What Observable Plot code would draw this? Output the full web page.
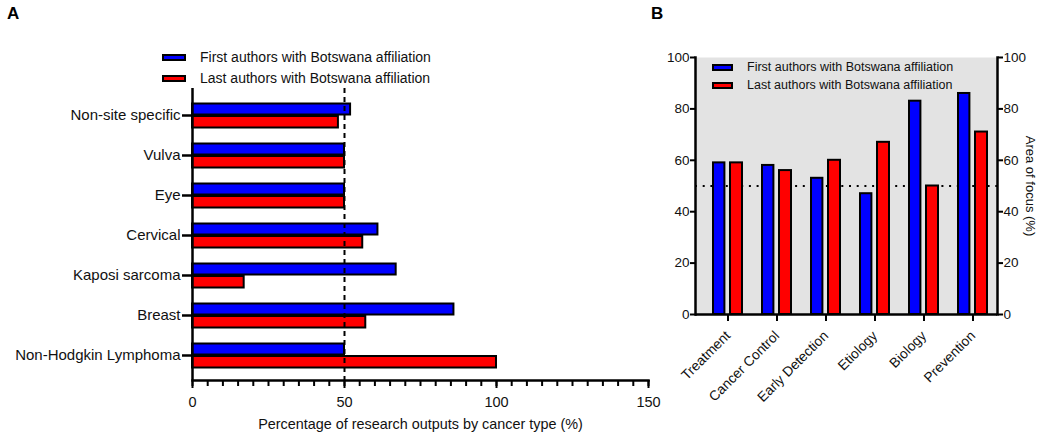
<!DOCTYPE html>
<html><head><meta charset="utf-8">
<script src="https://cdn.jsdelivr.net/npm/d3@7"></script>
<script src="https://cdn.jsdelivr.net/npm/@observablehq/plot@0.6"></script>
<style>
body{margin:0;background:#fff;font-family:"Liberation Sans",Arial,sans-serif;}
#wrap{position:relative;width:1050px;height:436px;overflow:hidden;background:#fff;}
.pa{position:absolute;top:0;}
.sw{position:absolute;box-sizing:border-box;border:2px solid #000;}
.lt{position:absolute;white-space:nowrap;line-height:1;color:#111;transform:translateY(-50%);}
.lab{position:absolute;font-weight:bold;font-size:17px;line-height:1;transform:translateY(-50%);}
</style></head><body><div id="wrap"></div>
<script>
// ---- data ----
const cancerTypes = ["Non-site specific","Vulva","Eye","Cervical","Kaposi sarcoma","Breast","Non-Hodgkin Lymphoma"];
const cancerFirst = [52, 50, 50, 61, 67, 86, 50];
const cancerLast  = [48, 50, 50, 56, 17, 57, 100];
const focusAreas = ["Treatment","Cancer Control","Early Detection","Etiology","Biology","Prevention"];
const focusFirst = [59, 58, 53, 47, 83, 86];
const focusLast  = [59, 56, 60, 67, 50, 71];
const aMajorTicks = [0, 50, 100, 150];
const bTicks = [0, 20, 40, 60, 80, 100];
const seriesNames = ["First authors with Botswana affiliation","Last authors with Botswana affiliation"];
const seriesColors = ["#0000ff","#ff0000"];
const aXLabel = "Percentage of research outputs by cancer type (%)";
const bYLabel = "Area of focus (%)";

const font = '"Liberation Sans", Arial, sans-serif';
const wrap = document.getElementById("wrap");

// ---- panel A ----
const aData = cancerTypes.map((c, i) => ({c, first: cancerFirst[i], last: cancerLast[i]}));
const plotA = Plot.plot({
  width: 660, height: 436,
  marginLeft: 192, marginRight: 12, marginTop: 88, marginBottom: 56,
  style: {fontFamily: font, fontSize: "14px", color: "#000", background: "transparent", overflow: "visible"},
  x: {domain: [0, 150]},
  y: {type: "band", domain: cancerTypes, range: [92.75, 376.25], padding: 0},
  marks: [
    Plot.barX(aData, {y: "c", x: "first", fill: seriesColors[0], stroke: "#000", strokeWidth: 2, insetTop: 8.5, insetBottom: 20.5}),
    Plot.barX(aData, {y: "c", x: "last", fill: seriesColors[1], stroke: "#000", strokeWidth: 2, insetTop: 21, insetBottom: 7.5}),
    Plot.ruleX([50], {strokeDasharray: "5,4", strokeWidth: 2}),
    Plot.ruleX([0], {strokeWidth: 2.5}),
    Plot.frame({anchor: "bottom", strokeWidth: 2.5}),
    Plot.axisY({tickSize: 10, tickPadding: 2, strokeWidth: 2.5, fontSize: 15, label: null, fill: "#111"}),
    Plot.axisX({ticks: d3.range(0, 151, 5), tickSize: 6, tickFormat: () => "", strokeWidth: 2, label: null}),
    Plot.axisX({ticks: aMajorTicks, tickSize: 8, tickPadding: 8, strokeWidth: 2, fontSize: 14.5, label: null, fill: "#111"}),
    Plot.text([aXLabel], {text: d => d, frameAnchor: "bottom", dy: 48, fontSize: 14.4, fill: "#111"})
  ]
});
plotA.classList.add("pa");
plotA.style.left = "0px";
wrap.appendChild(plotA);

// ---- panel B ----
const bData = focusAreas.map((a, i) => ({a, first: focusFirst[i], last: focusLast[i]}));
const plotB = Plot.plot({
  width: 400, height: 436,
  marginLeft: 45, marginRight: 53, marginTop: 57, marginBottom: 122,
  style: {fontFamily: font, fontSize: "13px", color: "#000", background: "transparent", overflow: "visible"},
  x: {type: "band", domain: focusAreas, range: [52.4, 347.6], padding: 0},
  y: {domain: [0, 100]},
  marks: [
    Plot.frame({fill: "#e3e3e3", stroke: "none"}),
    Plot.ruleY([50], {strokeDasharray: "2,5.7", strokeWidth: 2}),
    Plot.barY(bData, {x: "a", y: "first", fill: seriesColors[0], stroke: "#000", strokeWidth: 2, insetLeft: 10, insetRight: 27.6}),
    Plot.barY(bData, {x: "a", y: "last", fill: seriesColors[1], stroke: "#000", strokeWidth: 2, insetLeft: 27, insetRight: 10}),
    Plot.ruleY([0], {strokeWidth: 2.5}),
    Plot.frame({anchor: "left", strokeWidth: 2.5}),
    Plot.frame({anchor: "right", strokeWidth: 2.5}),
    Plot.axisY({ticks: bTicks, tickSize: 5, tickPadding: 1, strokeWidth: 2, fontSize: 13.5, label: null, fill: "#111"}),
    Plot.axisY({anchor: "right", ticks: bTicks, tickSize: 5, tickPadding: 1, strokeWidth: 2, fontSize: 13.5, label: null, fill: "#111"}),
    Plot.axisX({tickRotate: -45, tickSize: 7, tickPadding: 12, strokeWidth: 2, fontSize: 13.8, label: null, fill: "#111"}),
    Plot.text([bYLabel], {text: d => d, frameAnchor: "right", textAnchor: "middle", dx: 33, rotate: 90, fontSize: 13, fill: "#111"})
  ]
});
plotB.classList.add("pa");
plotB.style.left = "650px";
wrap.appendChild(plotB);

// ---- panel labels & legends (HTML) ----
function addLabel(t, x, y) {
  const d = document.createElement("div");
  d.className = "lab"; d.textContent = t;
  d.style.left = x + "px"; d.style.top = y + "px";
  wrap.appendChild(d);
}
addLabel("A", 7, 13);
addLabel("B", 651, 13);

function addLegend(x, ys, sw, sh, tx, fs) {
  seriesNames.forEach((name, i) => {
    const s = document.createElement("div");
    s.className = "sw";
    s.style.left = x + "px"; s.style.top = (ys[i] - sh / 2) + "px";
    s.style.width = sw + "px"; s.style.height = sh + "px";
    s.style.background = seriesColors[i];
    wrap.appendChild(s);
    const t = document.createElement("div");
    t.className = "lt"; t.textContent = name;
    t.style.left = tx + "px"; t.style.top = ys[i] + "px"; t.style.fontSize = fs + "px";
    wrap.appendChild(t);
  });
}
addLegend(162, [57, 78], 24, 7, 200, 14);
addLegend(712, [67, 85], 21, 7, 747, 12.5);
</script></body></html>
